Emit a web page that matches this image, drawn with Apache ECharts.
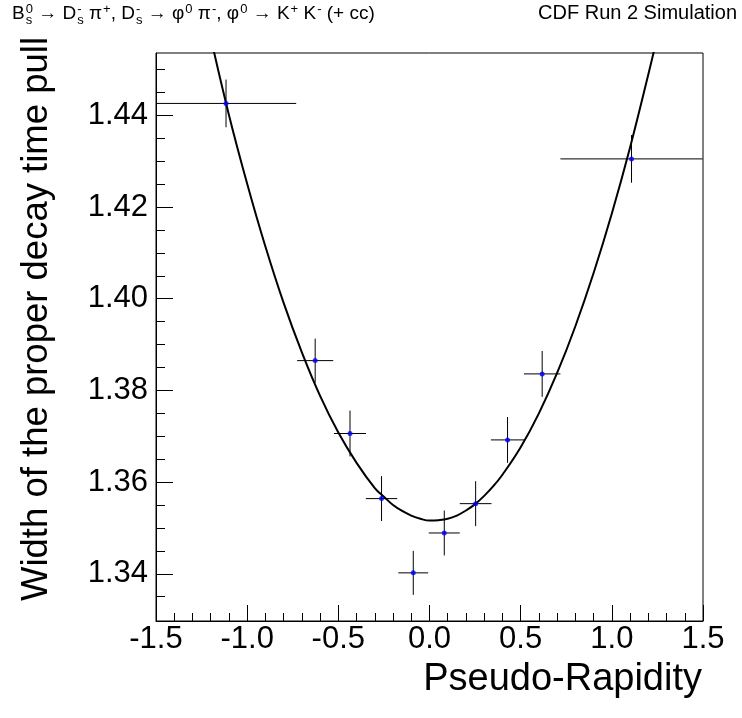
<!DOCTYPE html>
<html>
<head>
<meta charset="utf-8">
<script src="https://cdn.jsdelivr.net/npm/echarts@6/dist/echarts.min.js"></script>
<style>html,body{margin:0;padding:0;background:#fff;}#c{width:742px;height:718px;}</style>
</head>
<body>
<div id="c"></div>
<script>
// ---- data ----
const etaVals   = [-1.116, -0.627, -0.436, -0.263, -0.089, 0.081, 0.253, 0.428, 0.618, 1.108];
const etaErr    = [0.385, 0.099, 0.088, 0.086, 0.082, 0.085, 0.087, 0.091, 0.100, 0.390];
const widthVals = [1.4426, 1.3865, 1.3706, 1.3564, 1.3402, 1.3489, 1.3553, 1.3692, 1.3836, 1.4305];
const widthErr  = [0.0052, 0.0048, 0.0050, 0.0049, 0.0048, 0.0049, 0.0049, 0.0050, 0.0050, 0.0052];
// fit curve, points
const fitEta   = [-1.20, -1.10, -1.00, -0.90, -0.80, -0.70, -0.60, -0.50, -0.40, -0.30, -0.25, -0.20, -0.15, -0.10, -0.05, 0.00, 0.05, 0.10, 0.15, 0.20, 0.25, 0.30, 0.35, 0.40, 0.50, 0.60, 0.70, 0.80, 0.90, 1.00, 1.10, 1.20, 1.25];
const fitWidth = [1.4570, 1.4401, 1.4251, 1.4114, 1.3991, 1.3883, 1.3788, 1.3708, 1.3642, 1.3587, 1.3568, 1.3550, 1.3537, 1.3527, 1.3520, 1.3516, 1.3517, 1.3520, 1.3527, 1.3538, 1.3552, 1.3570, 1.3591, 1.3616, 1.3676, 1.3750, 1.3838, 1.3940, 1.4056, 1.4186, 1.4330, 1.4489, 1.4573];
const xTicks = [-1.5, -1.0, -0.5, 0.0, 0.5, 1.0, 1.5];
const yTicks = [1.34, 1.36, 1.38, 1.40, 1.42, 1.44];
const yMinorTicks = [1.335, 1.345, 1.35, 1.355, 1.365, 1.37, 1.375, 1.385, 1.39, 1.395, 1.405, 1.41, 1.415, 1.425, 1.43, 1.435, 1.445, 1.45];
const yRange = [1.3297, 1.4536];
const xRange = [-1.5, 1.5];
const xTitle = 'Pseudo-Rapidity';
const yTitle = 'Width of the proper decay time pull';
const rightNote = 'CDF Run 2 Simulation';
// decay formula pieces: main text, superscripts, subscripts
const formula = [
  {t: 'B'}, {sup: '0', sub: 's'}, {t: ' \u2192 D'}, {sup: '-', sub: 's'}, {t: ' \u03c0'}, {sup: '+'},
  {t: ', D'}, {sup: '-', sub: 's'}, {t: ' \u2192 \u03c6'}, {sup: '0'}, {t: ' \u03c0'}, {sup: '-'},
  {t: ', \u03c6'}, {sup: '0'}, {t: ' \u2192 K'}, {sup: '+'}, {t: ' K'}, {sup: '-'}, {t: ' (+ cc)'}
];

const FONT = '"Liberation Sans", Arial, Helvetica, sans-serif';
const chart = echarts.init(document.getElementById('c'), null, {renderer: 'canvas'});

// layout of formula text
const mctx = document.createElement('canvas').getContext('2d');
function w(txt, size) { mctx.font = size + 'px ' + FONT; return mctx.measureText(txt).width; }
const mainSize = 19, scriptSize = 13, baseY = 23;
const fx0 = 12;
let cx = fx0;
const formulaEls = [];
formula.forEach(p => {
  if (p.t !== undefined) {
    formulaEls.push({type: 'text', x: cx, y: baseY, style: {text: p.t, font: mainSize + 'px ' + FONT, fill: '#000', textAlign: 'left', textVerticalAlign: 'bottom'}});
    cx += w(p.t, mainSize);
  } else {
    let adv = 0;
    if (p.sup) {
      formulaEls.push({type: 'text', x: cx + 1, y: baseY - 7, style: {text: p.sup, font: scriptSize + 'px ' + FONT, fill: '#000', textAlign: 'left', textVerticalAlign: 'bottom'}});
      adv = Math.max(adv, w(p.sup, scriptSize) + 1);
    }
    if (p.sub) {
      formulaEls.push({type: 'text', x: cx + 1, y: baseY + 4, style: {text: p.sub, font: scriptSize + 'px ' + FONT, fill: '#000', textAlign: 'left', textVerticalAlign: 'bottom'}});
      adv = Math.max(adv, w(p.sub, scriptSize) + 1);
    }
    cx += adv;
  }
});

const points = etaVals.map((x, i) => [x, widthVals[i], etaErr[i], widthErr[i]]);
const fitData = fitEta.map((x, i) => [x, fitWidth[i]]);

const option = {
  animation: false,
  backgroundColor: '#fff',
  grid: {left: 156, right: 39, top: 53, bottom: 97, show: true, borderColor: '#000', borderWidth: 1, backgroundColor: 'transparent'},
  xAxis: {
    type: 'value', min: xRange[0], max: xRange[1], interval: 0.5,
    axisLine: {show: true, onZero: false, lineStyle: {color: '#000', width: 1}},
    axisTick: {show: true, inside: true, length: 16, lineStyle: {color: '#000'}},
    minorTick: {show: true, splitNumber: 5, length: 8, lineStyle: {color: '#000'}},
    splitLine: {show: false},
    axisLabel: {show: true, margin: 3, fontSize: 31, fontFamily: FONT, color: '#000', showMinLabel: true, showMaxLabel: true, hideOverlap: false,
      formatter: v => v.toFixed(1)}
  },
  yAxis: [{
    type: 'value', min: yRange[0], max: yRange[1],
    axisLine: {show: true, onZero: false, lineStyle: {color: '#000', width: 1}},
    axisTick: {show: true, inside: true, length: 17, customValues: yTicks, lineStyle: {color: '#000'}},
    splitLine: {show: false},
    axisLabel: {show: true, margin: 8, fontSize: 31, fontFamily: FONT, color: '#000', customValues: yTicks,
      formatter: v => v.toFixed(2)}
  }, {
    type: 'value', min: yRange[0], max: yRange[1], position: 'left', offset: 0,
    axisLine: {show: false, onZero: false},
    axisTick: {show: true, inside: true, length: 9, customValues: yMinorTicks, lineStyle: {color: '#000'}},
    splitLine: {show: false},
    axisLabel: {show: false}
  }],
  series: [
    {
      type: 'custom', clip: true, xAxisIndex: 0, yAxisIndex: 0, z: 3,
      data: points,
      renderItem: function (params, api) {
        const x = api.value(0), y = api.value(1), ex = api.value(2), ey = api.value(3);
        const l = api.coord([x - ex, y]), r = api.coord([x + ex, y]);
        const t = api.coord([x, y + ey]), b = api.coord([x, y - ey]);
        const st = {stroke: '#000', lineWidth: 1};
        return {type: 'group', children: [
          {type: 'line', shape: {x1: l[0], y1: l[1], x2: r[0], y2: r[1]}, style: st},
          {type: 'line', shape: {x1: t[0], y1: t[1], x2: b[0], y2: b[1]}, style: st}
        ]};
      }
    },
    {
      type: 'line', data: fitData, smooth: 0.4, showSymbol: false, symbol: 'none', clip: true, z: 4,
      lineStyle: {color: '#000', width: 2}
    },
    {
      type: 'scatter', data: etaVals.map((x, i) => [x, widthVals[i]]), symbol: 'circle', symbolSize: 5, z: 5,
      itemStyle: {color: '#0000ff'}
    }
  ],
  graphic: [
    ...formulaEls,
    {type: 'text', x: 737, y: 23, style: {text: rightNote, font: '20px ' + FONT, fill: '#000', textAlign: 'right', textVerticalAlign: 'bottom'}},
    {type: 'text', x: 702, y: 680, style: {text: xTitle, font: '38px ' + FONT, fill: '#000', textAlign: 'right', textVerticalAlign: 'middle'}},
    {type: 'text', x: 37, y: 319, rotation: Math.PI / 2, style: {text: yTitle, font: '36.5px ' + FONT, fill: '#000', textAlign: 'center', textVerticalAlign: 'middle'}}
  ]
};
chart.setOption(option);
</script>
</body>
</html>
